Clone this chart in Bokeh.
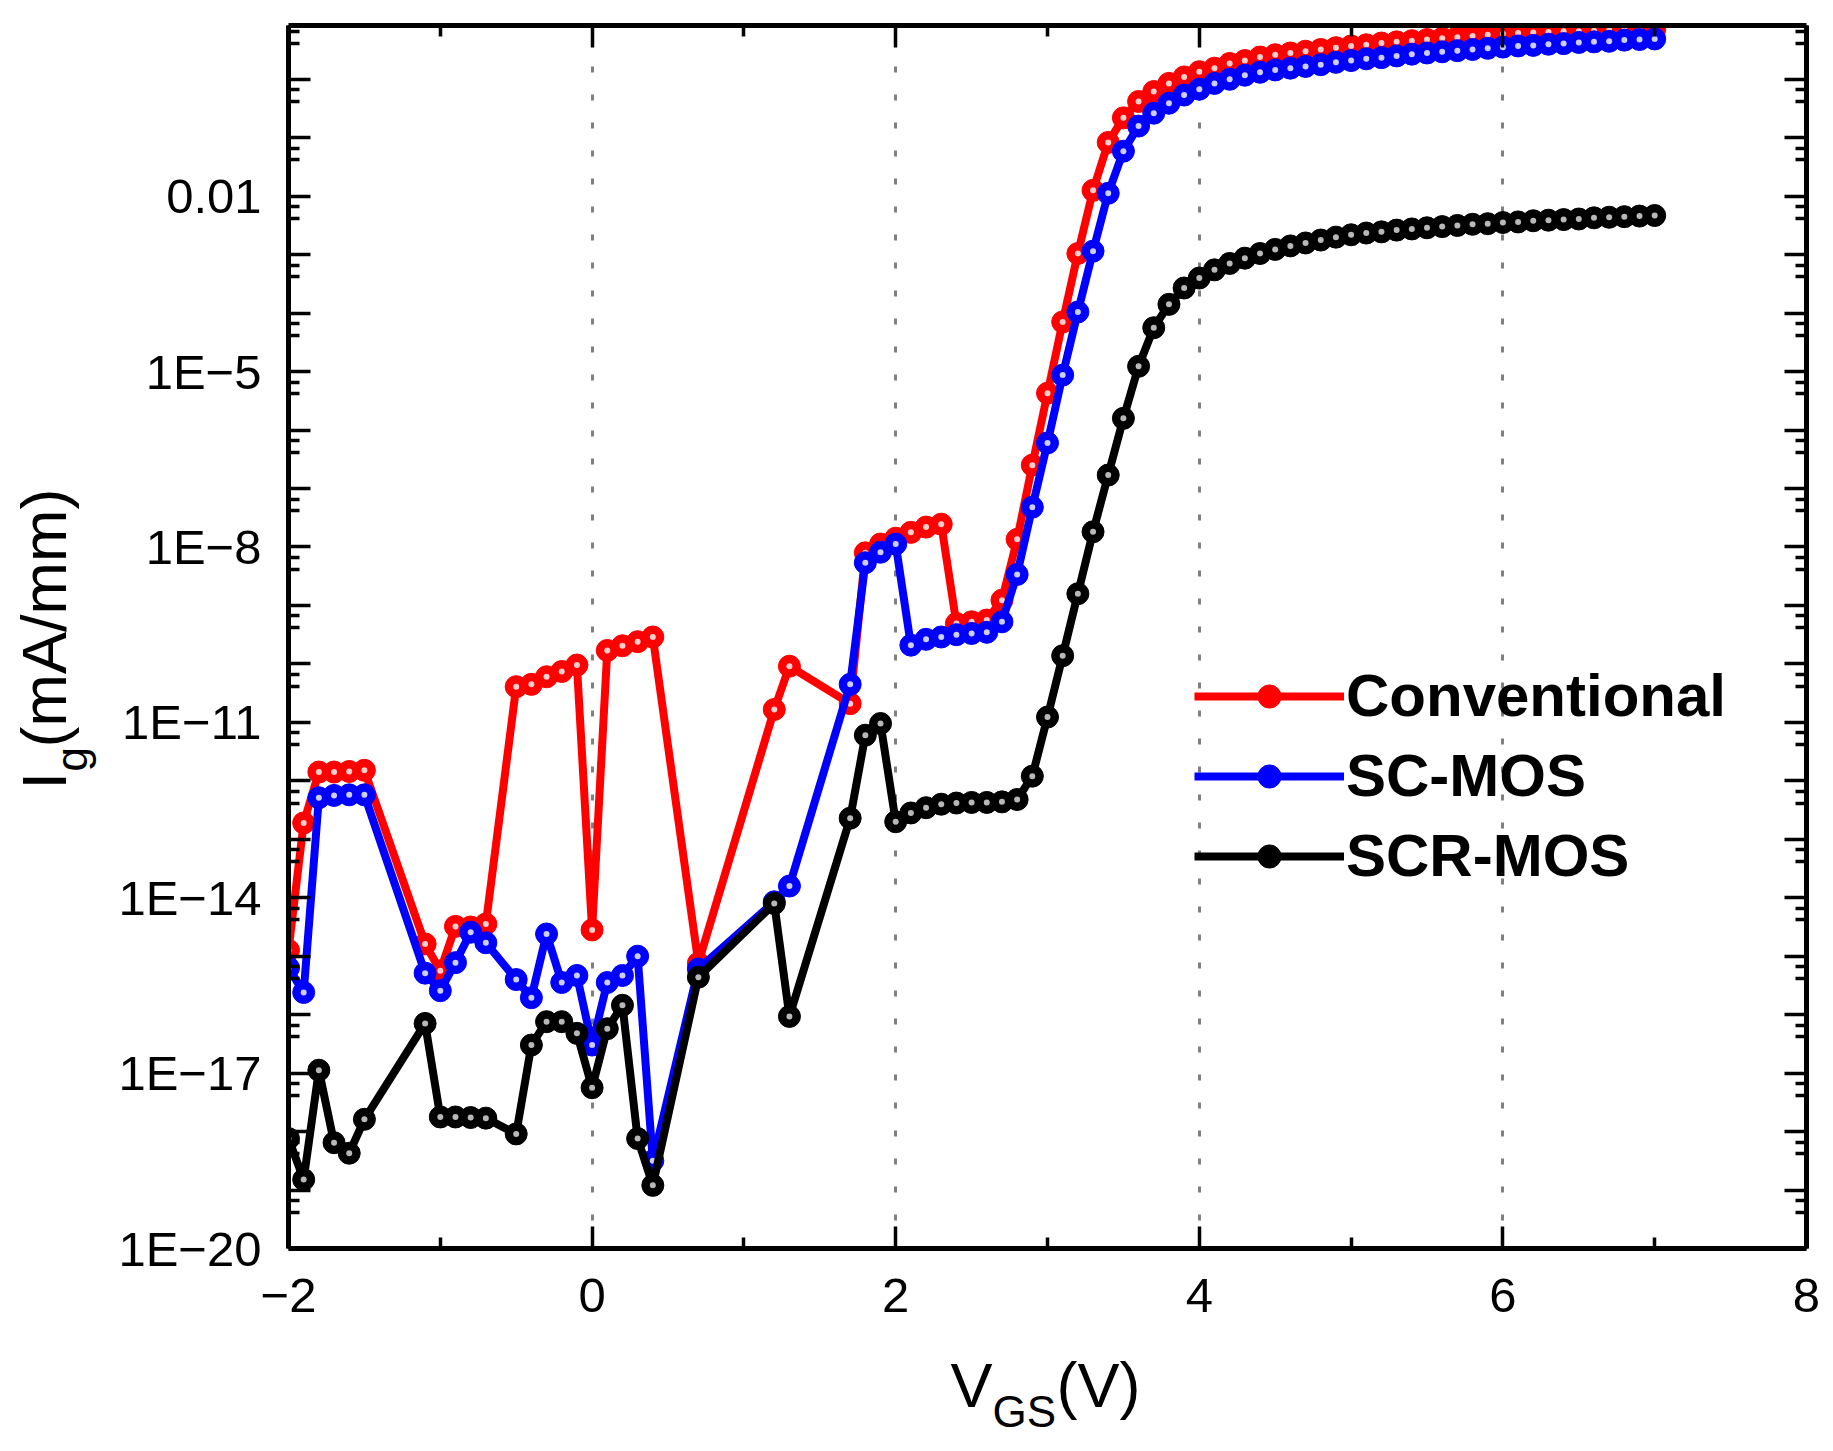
from bokeh.plotting import figure
from bokeh.layouts import row, column
from bokeh.models import (FixedTicker, LinearAxis, LogAxis, CustomJSTickFormatter,
                          Label, Legend, LegendItem, ColumnDataSource, Range1d)
from bokeh.embed import file_html
from bokeh.resources import INLINE

# ---------------- data ----------------
vgs = [-2.0, -1.9, -1.8, -1.7, -1.6, -1.5,
       -1.1, -1.0, -0.9, -0.8, -0.7,
       -0.5, -0.4, -0.3, -0.2, -0.1, 0.0, 0.1, 0.2, 0.3, 0.4,
       0.7,
       1.2, 1.3,
       1.7, 1.8, 1.9, 2.0, 2.1, 2.2, 2.3, 2.4, 2.5, 2.6, 2.7, 2.8, 2.9,
       3.0, 3.1, 3.2, 3.3, 3.4, 3.5, 3.6, 3.7, 3.8, 3.9,
       4.0, 4.1, 4.2, 4.3, 4.4, 4.5, 4.6, 4.7, 4.8, 4.9,
       5.0, 5.1, 5.2, 5.3, 5.4, 5.5, 5.6, 5.7, 5.8, 5.9,
       6.0, 6.1, 6.2, 6.3, 6.4, 6.5, 6.6, 6.7, 6.8, 6.9, 7.0]

# log10 of Ig (mA/mm)
conventional_log10 = [-14.90, -12.72, -11.85, -11.85, -11.84, -11.82,
                      -14.79, -15.25, -14.49, -14.50, -14.45,
                      -10.39, -10.35, -10.22, -10.13, -10.02, -14.55, -9.77, -9.69, -9.62, -9.54,
                      -15.12,
                      -10.78, -10.04,
                      -10.68, -8.10, -7.95, -7.85, -7.75, -7.66, -7.61, -9.31, -9.28, -9.25, -8.91, -7.87, -6.60,
                      -5.37, -4.15, -2.98, -1.90, -1.08, -0.66, -0.38, -0.21, -0.07, 0.04,
                      0.13, 0.19, 0.27, 0.32, 0.38, 0.42, 0.45, 0.48, 0.51, 0.54,
                      0.57, 0.59, 0.62, 0.64, 0.66, 0.68, 0.70, 0.72, 0.74, 0.76,
                      0.78, 0.79, 0.80, 0.81, 0.82, 0.82, 0.83, 0.84, 0.84, 0.85, 0.85]

sc_mos_log10 = [-15.20, -15.62, -12.29, -12.25, -12.24, -12.24,
                -15.29, -15.59, -15.11, -14.59, -14.77,
                -15.40, -15.71, -14.62, -15.45, -15.33, -16.52, -15.45, -15.33, -15.00, -18.50,
                -15.22,
                -14.07, -13.80,
                -10.35, -8.27, -8.09, -7.95, -9.68, -9.58, -9.54, -9.50, -9.48, -9.46, -9.28, -8.47, -7.32,
                -6.22, -5.06, -3.98, -2.94, -1.95, -1.23, -0.80, -0.58, -0.41, -0.27,
                -0.17, -0.07, 0.00, 0.07, 0.12, 0.16, 0.19, 0.22, 0.25, 0.29,
                0.32, 0.35, 0.37, 0.40, 0.43, 0.45, 0.47, 0.49, 0.51, 0.53,
                0.55, 0.57, 0.58, 0.60, 0.61, 0.63, 0.64, 0.65, 0.67, 0.68, 0.69]

scr_mos_log10 = [-18.12, -18.82, -16.95, -18.19, -18.37, -17.79,
                 -16.15, -17.75, -17.75, -17.76, -17.77,
                 -18.04, -16.52, -16.12, -16.12, -16.32, -17.25, -16.24, -15.84, -18.12, -18.92,
                 -15.36,
                 -14.10, -16.03,
                 -12.64, -11.22, -11.02, -12.70, -12.55, -12.46, -12.40, -12.38, -12.37, -12.37, -12.36, -12.32, -11.92,
                 -10.91, -9.86, -8.80, -7.74, -6.77, -5.80, -4.91, -4.25, -3.85, -3.57,
                 -3.40, -3.26, -3.15, -3.06, -2.98, -2.91, -2.85, -2.80, -2.75, -2.70,
                 -2.66, -2.63, -2.61, -2.58, -2.56, -2.54, -2.52, -2.50, -2.48, -2.47,
                 -2.45, -2.44, -2.42, -2.41, -2.40, -2.39, -2.37, -2.36, -2.35, -2.34, -2.33]

series_names = ["Conventional", "SC-MOS", "SCR-MOS"]
series_colors = ["#ff0000", "#0000ff", "#000000"]
highlight_colors = ["#ffffff", "#ffffff", "#e6e6e6"]

x_major_ticks = [-2, 0, 2, 4, 6, 8]
x_minor_ticks = [-1, 1, 3, 5, 7]
x_grid_ticks = [0, 2, 4, 6]
y_decade_exponents = list(range(-20, 1))

# ---------------- page geometry (page pixels) ----------------
W, H = 1825, 1445            # whole page
YL_W = 105                   # strip on the left holding the y title
XL_H = 103                   # strip at the bottom holding the x title
FL, FT, FR, FB = 288, 25, 1806, 1248   # frame edges
MW, MH = W - YL_W, H - XL_H  # main plot size

FONT = "Liberation Sans"

def no_frame_align(f):
    try:
        f.frame_align = False
    except Exception:
        pass

# ---------------- main figure ----------------
X0, X1 = -2.0, 8.0
YTOP_LOG = 0.92
p = figure(width=MW, height=MH, x_range=(X0, X1), y_range=(1e-20, 10 ** YTOP_LOG),
           y_axis_type="log", output_backend="svg", toolbar_location=None, title=None,
           min_border_left=FL - YL_W, min_border_right=W - FR,
           min_border_top=FT, min_border_bottom=MH - FB)
p.background_fill_color = "white"
p.border_fill_color = "white"
p.outline_line_color = None
no_frame_align(p)

y_major = [10.0 ** k for k in y_decade_exponents]
y_minor = []
for k in range(-19, 2):
    y_minor += [10.0 ** (k - 0.18), 10.0 ** (k - 0.38)]

x_ticker = FixedTicker(ticks=x_major_ticks, minor_ticks=x_minor_ticks)
y_ticker = FixedTicker(ticks=y_major, minor_ticks=y_minor)

def style_axis(ax):
    ax.axis_line_width = 5
    ax.axis_line_color = "black"
    ax.major_tick_in = 22
    ax.major_tick_out = 0
    ax.minor_tick_in = 11
    ax.minor_tick_out = 0
    ax.major_tick_line_width = 3.5
    ax.minor_tick_line_width = 3.5
    ax.major_tick_line_color = "black"
    ax.minor_tick_line_color = "black"
    ax.major_label_text_font = FONT
    ax.major_label_text_font_size = "49px"
    ax.major_label_text_color = "black"

xa = p.xaxis[0]
xa.ticker = x_ticker
xa.formatter = CustomJSTickFormatter(code="return String(tick).replace('-', '\u2212');")
style_axis(xa)
xa.major_label_standoff = 30

ya = p.yaxis[0]
ya.ticker = y_ticker
ya.formatter = CustomJSTickFormatter(code="""
const e = Math.round(Math.log10(tick));
if ((((e % 3) + 3) % 3) != 1) { return ""; }
if (e == -2) { return "0.01"; }
return "1E\u2212" + String(-e);
""")
style_axis(ya)
ya.major_label_standoff = 27

top = LinearAxis(ticker=x_ticker, formatter=CustomJSTickFormatter(code="return '';"))
style_axis(top)
top.major_label_text_font_size = "1px"
top.major_label_standoff = 0
p.add_layout(top, "above")

right = LogAxis(ticker=y_ticker, formatter=CustomJSTickFormatter(code="return '';"))
style_axis(right)
right.major_label_text_font_size = "1px"
right.major_label_standoff = 0
p.add_layout(right, "right")

p.xgrid.ticker = FixedTicker(ticks=x_grid_ticks)
p.xgrid.grid_line_color = "#808080"
p.xgrid.grid_line_dash = "6 22"
p.xgrid.grid_line_width = 3
p.ygrid.visible = False

# ---------------- series ----------------
legend_items = []
for name, logs, col, hi in zip(series_names,
                               [conventional_log10, sc_mos_log10, scr_mos_log10],
                               series_colors, highlight_colors):
    src = ColumnDataSource(dict(x=vgs, y=[10.0 ** v for v in logs]))
    ln = p.line("x", "y", source=src, line_color=col, line_width=8)
    mk = p.scatter("x", "y", source=src, size=22, fill_color=col, line_color=col, line_width=1)
    p.scatter("x", "y", source=src, size=6, fill_color=hi, fill_alpha=0.8, line_color=None)
    legend_items.append(LegendItem(label=name, renderers=[ln, mk]))

legend = Legend(items=legend_items, location=(906, 358), glyph_width=150, glyph_height=58,
                spacing=11, label_standoff=2, padding=0, margin=0,
                border_line_alpha=0, background_fill_alpha=0,
                label_text_font=FONT, label_text_font_size="60px",
                label_text_font_style="bold", label_text_color="black")
p.add_layout(legend)

# ---------------- title strips (ranges in page pixels) ----------------
def strip(width, height, x0, x1, y0, y1):
    f = figure(width=width, height=height, x_range=Range1d(x0, x1), y_range=Range1d(y1, y0),
               output_backend="svg", toolbar_location=None, title=None, min_border=0,
               min_border_left=0, min_border_right=0, min_border_top=0, min_border_bottom=0,
               x_axis_location=None, y_axis_location=None)
    f.outline_line_color = None
    f.background_fill_color = "white"
    f.border_fill_color = "white"
    f.xgrid.visible = False
    f.ygrid.visible = False
    no_frame_align(f)
    return f

ystrip = strip(YL_W, H, 0, YL_W, 0, H)
xstrip = strip(MW, XL_H, YL_W, W, MH, H)

# the rendered baseline sits ~0.44 em below the anchor; compensate
SHIFT = 0.44

def lab(f, ox, oy, text, size_px, angle=0):
    d = SHIFT * size_px
    if angle == 0:
        oy = oy - d
    else:
        ox = ox - d
    f.add_layout(Label(x=ox, y=oy, text=text, text_font=FONT, text_font_size=f"{size_px}px",
                       text_color="black", text_align="left", text_baseline="alphabetic",
                       angle=angle, angle_units="deg"))

lab(xstrip, 950, 1412, "V", 63)
lab(xstrip, 992, 1430, "GS", 44)
lab(xstrip, 1056, 1412, "(V)", 63)

lab(ystrip, 71, 789, "I", 63, 90)
lab(ystrip, 90, 771, "g", 44, 90)
lab(ystrip, 71, 747, "(mA/mm)", 63, 90)

layout = row(ystrip, column(p, xstrip, spacing=0), spacing=0)

open("out.html", "w").write(file_html(layout, INLINE))
